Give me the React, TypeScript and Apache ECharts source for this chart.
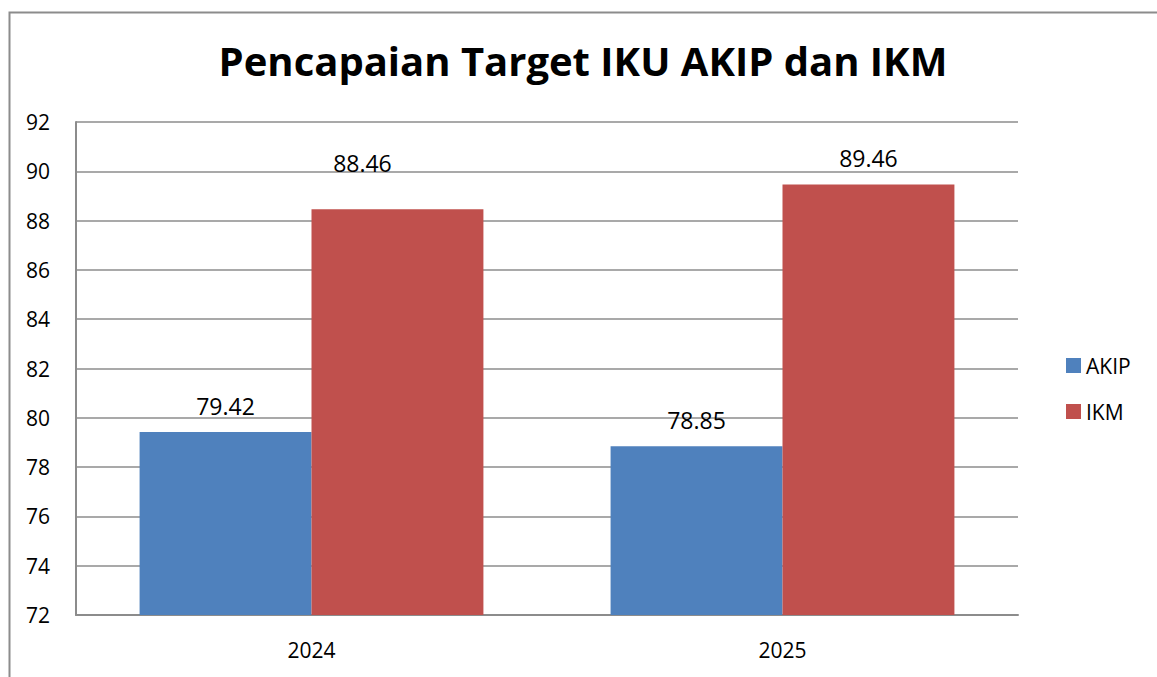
import React, { useEffect, useRef } from "react";
import * as echarts from "echarts";

const categories = ["2024", "2025"];
const akipValues = [79.42, 78.85];
const ikmValues = [88.46, 89.46];
const yTicks = { min: 72, max: 92, interval: 2 };
const titleText = "Pencapaian Target IKU AKIP dan IKM";

const FONT = "'Open Sans', 'Liberation Sans', sans-serif";

export default function App() {
  const ref = useRef<HTMLDivElement>(null);
  useEffect(() => {
    if (!ref.current) return;
    const chart = echarts.init(ref.current, undefined, { renderer: "svg" });
    const labelBase = {
      show: true,
      position: "top" as const,
      distance: 15,
      fontSize: 23,
      fontFamily: FONT,
      color: "#000",
      formatter: (p: any) => Number(p.value).toFixed(2),
    };
    chart.setOption({
      animation: false,
      backgroundColor: "#fff",
      title: {
        text: titleText,
        left: 578,
        top: 35,
        textAlign: "center",
        textStyle: { fontFamily: FONT, fontWeight: "bold", fontSize: 40, color: "#000" },
      },
      legend: {
        orient: "vertical",
        left: 1061,
        top: 350,
        itemWidth: 15,
        itemHeight: 15,
        itemGap: 25,
        icon: "rect",
        textStyle: { fontFamily: FONT, fontSize: 21, color: "#000" },
        data: ["AKIP", "IKM"],
      },
      grid: { left: 76, top: 122, right: 139, bottom: 62, containLabel: false },
      xAxis: {
        type: "category",
        data: categories,
        axisLine: { show: true, lineStyle: { color: "#8c8c8c", width: 2 } },
        axisTick: { show: false },
        axisLabel: { fontFamily: FONT, fontSize: 21, color: "#000", margin: 24 },
      },
      yAxis: {
        type: "value",
        min: yTicks.min,
        max: yTicks.max,
        interval: yTicks.interval,
        axisLine: { show: true, lineStyle: { color: "#8c8c8c", width: 2 } },
        axisTick: { show: false },
        axisLabel: { fontFamily: FONT, fontSize: 21, color: "#000", margin: 26 },
        splitLine: { show: true, lineStyle: { color: "#8c8c8c", width: 1.5 } },
      },
      series: [
        {
          name: "AKIP",
          type: "bar",
          barGap: "0%",
          barCategoryGap: "27%",
          itemStyle: { color: "#4F81BD" },
          label: labelBase,
          data: akipValues.map((v) => ({ value: v })),
        },
        {
          name: "IKM",
          type: "bar",
          barGap: "0%",
          barCategoryGap: "27%",
          itemStyle: { color: "#C0504D" },
          label: labelBase,
          data: ikmValues.map((v, i) =>
            i === 0 ? { value: v, label: { offset: [-35, -20] } } : { value: v }
          ),
        },
      ],
      graphic: [
        {
          type: "rect",
          left: 7,
          top: 10,
          shape: { width: 1200, height: 720 },
          style: { fill: "none", stroke: "#8c8c8c", lineWidth: 2 },
          silent: true,
        },
      ],
    });
    return () => chart.dispose();
  }, []);
  return (
    <div
      ref={ref}
      style={{ position: "fixed", left: 0, top: 0, width: 1157, height: 677 }}
    />
  );
}
